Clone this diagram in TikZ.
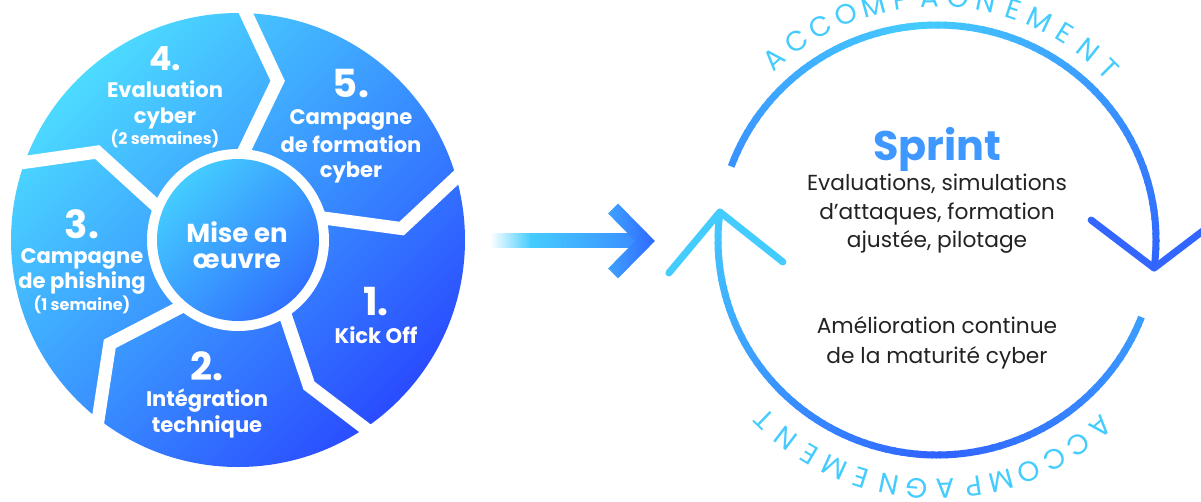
\documentclass[tikz,border=0pt]{standalone}
\usepackage{fontspec}
\setmainfont{Poppins}
\usetikzlibrary{calc}
\definecolor{cyanA}{HTML}{45CCFF}
\definecolor{blueD}{HTML}{2F62FF}
\definecolor{textdark}{HTML}{222222}
\definecolor{sprintc}{HTML}{3E98FF}
\definecolor{diskTop}{HTML}{4CDAFF}
\definecolor{diskMid}{HTML}{3A95FF}
\definecolor{diskBot}{HTML}{2A4CFF}
\definecolor{coreTop}{HTML}{44CCFF}
\definecolor{coreBot}{HTML}{3070FF}
\definecolor{chevL}{HTML}{3FA2FF}
\definecolor{chevR}{HTML}{2F68FF}
\definecolor{shaftR}{HTML}{3A8CFF}
\definecolor{armR}{HTML}{3366FF}
\newcommand\lblfont{\fontsize{15.8}{20}\selectfont\bfseries}
\newcommand\numfont{\fontsize{29}{36}\selectfont\bfseries}
\newcommand\numsfont{\fontsize{25}{30}\selectfont\bfseries}
\newcommand\smlfont{\fontsize{12}{15}\selectfont\bfseries}
\newcommand\cenfont{\fontsize{19.5}{24}\selectfont\bfseries}
\newcommand\bodyfont{\fontsize{16.3}{20}\selectfont}
\newcommand\sprintfont{\fontsize{31}{36}\selectfont\bfseries}
\newcommand\accfont{\fontsize{21}{24}\selectfont}
\begin{document}
\begin{tikzpicture}[x=0.75pt,y=-0.75pt,
  lbl/.style={anchor=base,inner sep=0pt,text=white,font=\lblfont},
  numl/.style={anchor=base,inner sep=0pt,text=white,font=\numfont},
  nums/.style={anchor=base,inner sep=0pt,text=white,font=\numsfont},
  sml/.style={anchor=base,inner sep=0pt,text=white,font=\smlfont},
  cen/.style={anchor=base,inner sep=0pt,text=white,font=\cenfont},
  body/.style={anchor=base,inner sep=0pt,text=textdark,font=\bodyfont},
  acc/.style={inner sep=0pt,text=cyanA,font=\accfont},
  gap/.style={draw=white,line width=9.75pt,line join=miter},
  arcline/.style={line width=5.25pt,line cap=butt},
  arm/.style={line width=5.25pt,line cap=round,line join=round}]
\useasboundingbox (0,0) rectangle (1201,501);
\clip (0,0) rectangle (1201,501);
% ---------- left disk ----------
\coordinate (dc) at (238,240);
\shade[top color=diskTop,bottom color=diskBot,middle color=diskMid,shading angle=45] (dc) circle[radius=227];
\foreach \ki/\kr/\ii/\oo in {284/164/274/272, 356/164/346/344, 64/162/58/56, 141/165/131/128, 212/166/203/200} {
  \coordinate (gk) at ($(dc)+(\ki:\kr)$);
  \coordinate (gi) at ($(dc)+(\ii:90)$);
  \coordinate (go) at ($(dc)+(\oo:227)$);
  \draw[gap] ($(gk)!1.35!(gi)$) -- (gk) -- ($(gk)!1.4!(go)$);
}
\fill[white] (dc) circle[radius=91];
\shade[top color=coreTop,bottom color=coreBot,shading angle=45] (dc) circle[radius=81];
% labels
\node[cen] (c1) at (237,242) {Mise en};
\node[cen] (c2) at (237,268) {œuvre};
\node[nums] (n4) at (165,70) {4.};
\node[lbl] (l4a) at (165,97) {Evaluation};
\node[lbl] (l4b) at (165,123) {cyber};
\node[sml] (l4c) at (165,144) {(2 semaines)};
\node[numl] (n5) at (351,97) {5.};
\node[lbl] (l5a) at (351,124) {Campagne};
\node[lbl] (l5b) at (351,152) {de formation};
\node[lbl] (l5c) at (351,177) {cyber};
\node[numl] (n3) at (82,238) {3.};
\node[lbl] (l3a) at (82,263) {Campagne};
\node[lbl] (l3b) at (82,288) {de phishing};
\node[sml] (l3c) at (82,310) {(1 semaine)};
\node[numl] (n2) at (207,380) {2.};
\node[lbl] (l2a) at (207,406) {Intégration};
\node[lbl] (l2b) at (207,432) {technique};
\node[numl] (n1) at (376,315) {1.};
\node[lbl] (l1a) at (376,343) {Kick Off};
% ---------- middle arrow ----------
\coordinate (as) at (490,240.5);
\coordinate (ak) at (645,241);
\shade[left color=white,right color=cyanA] (490,233.5) rectangle (531,247.5);
\shade[left color=cyanA,right color=shaftR] (530,233.5) rectangle (640,247.5);
\shade[left color=chevL,right color=chevR] (617.95,203.55) -- (654.9,241) -- (617.95,278.45) -- (608.05,268.55) -- (635.1,241) -- (608.05,213.45) -- cycle;
% ---------- right cycle ----------
\coordinate (rc) at (937,240);
\foreach \a in {200,202,...,366} {
  \pgfmathsetmacro\e{min(\a+2.5,367.5)}
  \pgfmathtruncatemacro\p{\a<265 ? ((265-\a)/65*55) : ((\a-265)/102.5*100)}
  \draw[arcline,draw=blueD!\p!cyanA] ($(rc)+(\a:219 and 215)$) arc[start angle=\a,end angle=\e,x radius=219,y radius=215];
}
\foreach \a in {21,23,...,185} {
  \pgfmathsetmacro\e{min(\a+2.5,187.5)}
  \pgfmathtruncatemacro\p{\a<90 ? (45+(\a-21)/69*55) : ((187.5-\a)/97.5*100)}
  \draw[arcline,draw=blueD!\p!cyanA] ($(rc)+(\a:219 and 215)$) arc[start angle=\a,end angle=\e,x radius=219,y radius=215];
}
\coordinate (tipR) at ($(rc)+(367.5:219 and 215)$);
\draw[arm,draw=armR] ($(tipR)+(-63,-48)$) -- (tipR) -- ($(tipR)+(63,-48)$);
\coordinate (tipL) at ($(rc)+(187.5:219 and 215)$);
\draw[arm,draw=cyanA] ($(tipL)+(-51,61)$) -- (tipL) -- ($(tipL)+(63,50)$);
% ring letters
\foreach \ch [count=\i from 0] in {A,C,C,O,M,P,A,G,N,E,M,E,N,T} {
  \pgfmathsetmacro\th{228+6.7*\i}
  \pgfmathsetmacro\rt{-\th-90}
  \node[acc,rotate=\rt] (accT\i) at ($(rc)+(\th:243)$) {\ch};
}
\foreach \ch [count=\i from 0] in {A,C,C,O,M,P,A,G,N,E,M,E,N,T} {
  \pgfmathsetmacro\th{48.8+6.55*\i}
  \pgfmathsetmacro\rt{-\th-90}
  \node[acc,rotate=\rt] (accB\i) at ($(rc)+(\th:249)$) {\ch};
}
% texts
\node[anchor=base,inner sep=0pt,text=sprintc,font=\sprintfont] (sp) at (937,160) {Sprint};
\node[body] (b1) at (937,190) {Evaluations, simulations};
\node[body] (b2) at (937,219) {d’attaques, formation};
\node[body] (b3) at (937,247) {ajustée, pilotage};
\node[body] (b4) at (937,333) {Amélioration continue};
\node[body] (b5) at (937,363) {de la maturité cyber};
\end{tikzpicture}
\end{document}
